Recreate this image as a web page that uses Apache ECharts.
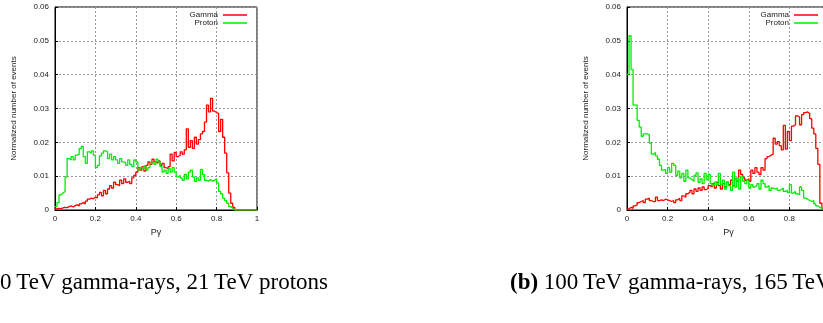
<!DOCTYPE html>
<html>
<head>
<meta charset="utf-8">
<script src="https://cdn.jsdelivr.net/npm/echarts@6/dist/echarts.min.js"></script>
<style>
html,body{margin:0;padding:0;background:#fff;}
#chart{width:823px;height:323px;}
</style>
</head>
<body>
<div id="chart"></div>
<script>
// ---- data (bin width 0.01, bin left edges 0.00 .. 0.99) ----
var binWidth = 0.01;
var seriesNames = ['Gamma', 'Proton'];
var xTickLabels = ['0', '0.2', '0.4', '0.6', '0.8', '1'];
var yTickLabels = ['0', '0.01', '0.02', '0.03', '0.04', '0.05', '0.06'];
var xAxisTitle = 'P\u03b3';
var yAxisTitle = 'Normalized number of events';
var captionA = '(a)';
var captionAText = ' 10\u2009TeV gamma-rays, 21\u2009TeV protons';
var captionB = '(b)';
var captionBText = ' 100\u2009TeV gamma-rays, 165\u2009TeV protons';

// panel (a): 10 TeV gamma, 21 TeV protons
var gammaA = [
0.0003,0.0005,0.0004,0.0006,0.0008,0.0007,0.001,0.0012,0.0009,0.0013,
0.0015,0.0012,0.0018,0.0022,0.0018,0.0026,0.0032,0.0035,0.0033,0.0038,
0.0036,0.0045,0.0052,0.0042,0.0058,0.0048,0.0062,0.0072,0.0065,0.0082,
0.0075,0.0072,0.0088,0.0078,0.0092,0.0082,0.0085,0.0078,0.0095,0.0102,
0.0112,0.0125,0.0118,0.0128,0.0115,0.0132,0.0142,0.0135,0.015,0.0142,
0.0138,0.0145,0.0132,0.0138,0.0125,0.0122,0.0128,0.0165,0.0145,0.017,
0.0158,0.0162,0.0172,0.0165,0.0178,0.024,0.0185,0.0205,0.0182,0.0215,
0.0195,0.0208,0.0225,0.0232,0.026,0.031,0.029,0.033,0.0292,0.0288,
0.0285,0.0232,0.0268,0.0215,0.0168,0.011,0.005,0.002,0.0008,0,
0,0,0,0,0,0,0,0,0,0];
var protonA = [
0.001,0.0022,0.0045,0.005,0.0055,0.0098,0.0152,0.0148,0.0158,0.0148,
0.0162,0.0165,0.0182,0.0188,0.0158,0.0138,0.0172,0.0168,0.0175,0.0162,
0.0125,0.0132,0.016,0.0168,0.0175,0.0172,0.0152,0.0165,0.0148,0.0158,
0.0148,0.0138,0.0152,0.0142,0.014,0.0132,0.0148,0.0135,0.0128,0.0148,
0.0142,0.0118,0.0125,0.0122,0.013,0.0118,0.0125,0.0138,0.0142,0.0135,
0.015,0.0142,0.0128,0.0112,0.0118,0.0108,0.0122,0.0112,0.0125,0.0112,
0.0098,0.0102,0.0095,0.0088,0.0105,0.0092,0.0112,0.0118,0.0098,0.0085,
0.0095,0.0088,0.012,0.0105,0.0088,0.0085,0.009,0.0085,0.0088,0.0092,
0.008,0.0055,0.0048,0.0035,0.0028,0.002,0.001,0.0005,0,0,
0,0,0,0,0,0,0,0,0,0];

// panel (b): 100 TeV gamma, 165 TeV protons
var gammaB = [
0.0003,0.0008,0.0005,0.0012,0.0015,0.0022,0.0025,0.0028,0.0022,0.0032,
0.0035,0.0028,0.0025,0.0025,0.0038,0.0028,0.003,0.0028,0.0032,0.003,
0.0028,0.0025,0.0028,0.0022,0.003,0.0035,0.0028,0.0042,0.0038,0.0048,
0.0052,0.0058,0.0048,0.0062,0.0055,0.0065,0.0058,0.0068,0.006,0.0065,
0.0072,0.0068,0.0078,0.0065,0.0082,0.0072,0.0062,0.0078,0.0068,0.0082,
0.0075,0.0088,0.0072,0.0092,0.0085,0.0118,0.0105,0.0095,0.0088,0.0092,
0.0085,0.0118,0.0108,0.0125,0.0112,0.0105,0.0125,0.0118,0.0152,0.0158,
0.0162,0.0165,0.0212,0.0195,0.0202,0.019,0.0178,0.025,0.018,0.0232,
0.0205,0.0248,0.0252,0.0278,0.0275,0.0252,0.0282,0.0288,0.029,0.0285,
0.027,0.0242,0.0225,0.0182,0.0135,0.002,0.0005,0,0,0];
var protonB = [
0.040,0.0515,0.0415,0.031,0.031,0.0265,0.0245,0.0218,0.0225,0.0225,
0.0222,0.0198,0.0165,0.017,0.016,0.015,0.0132,0.0118,0.012,0.0108,
0.0125,0.0112,0.0138,0.0132,0.0102,0.0115,0.0095,0.0108,0.0085,0.0118,
0.0095,0.009,0.0085,0.0102,0.011,0.0082,0.0092,0.0078,0.0108,0.009,
0.0105,0.0078,0.0072,0.0082,0.0075,0.0108,0.0075,0.0088,0.0062,0.0082,
0.0072,0.0058,0.0112,0.0068,0.0095,0.0062,0.0098,0.0085,0.0078,0.0088,
0.0065,0.0075,0.0068,0.0072,0.0078,0.0062,0.0088,0.0078,0.0068,0.0072,
0.0058,0.0065,0.0062,0.0065,0.0058,0.006,0.0065,0.0055,0.0058,0.0052,
0.0075,0.005,0.0055,0.0048,0.0045,0.0068,0.0058,0.0035,0.0032,0.0028,
0.0025,0.0028,0.0018,0.0012,0.0008,0.0005,0,0,0,0];

// ---- build ----
function toSteps(arr){
  var out = arr.map(function(v,i){ return [+(i*binWidth).toFixed(2), v]; });
  out.push([+(arr.length*binWidth).toFixed(2), arr[arr.length-1]]);
  return out;
}
var sansFont = 'Liberation Sans, Arial, sans-serif';
var serifFont = 'Liberation Serif, Times New Roman, serif';
var grids = [
  {left:55, top:7, width:202, height:203, show:true, borderColor:'#000', borderWidth:1, outerBoundsMode:'none', containLabel:false},
  {left:627, top:7, width:203, height:203, show:true, borderColor:'#000', borderWidth:1, outerBoundsMode:'none', containLabel:false}
];
function xAx(gi){
  return {
    type:'value', gridIndex:gi, min:0, max:1, interval:0.2,
    name:xAxisTitle, nameLocation:'middle', nameGap:17,
    nameTextStyle:{fontSize:9, color:'#222', fontFamily:sansFont},
    axisLine:{show:true, lineStyle:{color:'#000', width:1}},
    axisTick:{show:true, inside:true, length:3, lineStyle:{color:'#000'}},
    axisLabel:{fontSize:8, color:'#222', fontFamily:sansFont, margin:5,
      formatter:function(v){ return xTickLabels[Math.round(v/0.2)]; }},
    splitLine:{show:true, lineStyle:{color:'#999', type:[2,2], width:1}}
  };
}
function yAx(gi){
  return {
    type:'value', gridIndex:gi, min:0, max:0.06, interval:0.01,
    name:yAxisTitle, nameLocation:'middle', nameGap:37, nameRotate:90,
    nameTextStyle:{fontSize:8, color:'#222', fontFamily:sansFont},
    axisLine:{show:true, lineStyle:{color:'#000', width:1}},
    axisTick:{show:true, inside:true, length:3, lineStyle:{color:'#000'}},
    axisLabel:{fontSize:8, color:'#222', fontFamily:sansFont, margin:6,
      formatter:function(v){ return yTickLabels[Math.round(v/0.01)]; }},
    splitLine:{show:true, lineStyle:{color:'#999', type:[2,2], width:1}}
  };
}
function ser(name, data, gi, color){
  return {
    name:name, type:'line', step:'end', xAxisIndex:gi, yAxisIndex:gi,
    data:toSteps(data), symbol:'none', showSymbol:false, animation:false,
    lineStyle:{color:color, width:1.3}, itemStyle:{color:color}
  };
}
function leg(right){
  return {
    orient:'vertical', right:right, top:11, align:'right', padding:0,
    icon:'rect', itemWidth:24, itemHeight:1.5, itemGap:0, selectedMode:false,
    textStyle:{fontSize:8, lineHeight:8, color:'#222', fontFamily:sansFont},
    data:seriesNames
  };
}
var option = {
  animation:false,
  backgroundColor:'#fff',
  grid:grids,
  xAxis:[xAx(0), xAx(1)],
  yAxis:[yAx(0), yAx(1)],
  legend:[leg(823-247), leg(5)],
  series:[
    ser(seriesNames[0], gammaA, 0, '#ff0000'),
    ser(seriesNames[1], protonA, 0, '#00ee00'),
    ser(seriesNames[0], gammaB, 1, '#ff0000'),
    ser(seriesNames[1], protonB, 1, '#00ee00')
  ],
  graphic:[
    {type:'text', x:328, y:283, style:{
      text:'{b|'+captionA+'}{n|'+captionAText+'}', align:'right', verticalAlign:'middle',
      rich:{b:{fontFamily:serifFont, fontSize:23, fontWeight:'bold', fill:'#000'},
            n:{fontFamily:serifFont, fontSize:23, fill:'#000'}}}},
    {type:'text', x:510, y:283, style:{
      text:'{b|'+captionB+'}{n|'+captionBText+'}', align:'left', verticalAlign:'middle',
      rich:{b:{fontFamily:serifFont, fontSize:23, fontWeight:'bold', fill:'#000'},
            n:{fontFamily:serifFont, fontSize:23, fill:'#000'}}}}
  ]
};
var chart = echarts.init(document.getElementById('chart'), null, {renderer:'canvas'});
chart.setOption(option);
</script>
</body>
</html>
